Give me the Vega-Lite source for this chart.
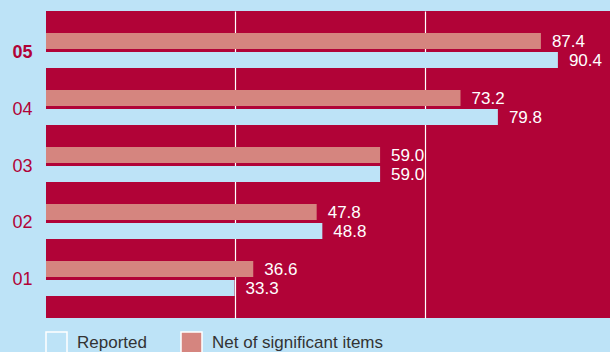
{
  "$schema": "https://vega.github.io/schema/vega-lite/v6.json",
  "autosize": {"type": "none"},
  "width": 564,
  "height": 307,
  "padding": {"left": 46, "top": 11, "right": 0, "bottom": 34},
  "background": "#bde3f7",
  "config": {
    "view": {"fill": "#b10337", "stroke": null},
    "font": "Liberation Sans"
  },
  "data": {
    "values": [
      {"year": "05", "series": "Net of significant items", "value": 87.4},
      {"year": "05", "series": "Reported", "value": 90.4},
      {"year": "04", "series": "Net of significant items", "value": 73.2},
      {"year": "04", "series": "Reported", "value": 79.8},
      {"year": "03", "series": "Net of significant items", "value": 59.0},
      {"year": "03", "series": "Reported", "value": 59.0},
      {"year": "02", "series": "Net of significant items", "value": 47.8},
      {"year": "02", "series": "Reported", "value": 48.8},
      {"year": "01", "series": "Net of significant items", "value": 36.6},
      {"year": "01", "series": "Reported", "value": 33.3}
    ]
  },
  "encoding": {
    "y": {
      "field": "year",
      "type": "nominal",
      "sort": "descending",
      "scale": {"paddingInner": 0.386, "paddingOuter": 0.386},
      "axis": {
        "title": null,
        "domain": false,
        "ticks": false,
        "labelFontSize": 18,
        "labelColor": "#b10337",
        "labelPadding": 14,
        "labelOffset": 2,
        "labelFontWeight": {"expr": "datum.value == '05' ? 'bold' : 'normal'"}
      }
    },
    "yOffset": {
      "field": "series",
      "type": "nominal",
      "sort": ["Net of significant items", "Reported"],
      "scale": {"paddingInner": 0.158}
    },
    "x": {
      "field": "value",
      "type": "quantitative",
      "scale": {"domain": [0, 99.6], "nice": false, "zero": true},
      "axis": {
        "title": null,
        "labels": false,
        "ticks": false,
        "domain": false,
        "values": [33.4, 66.9],
        "grid": true,
        "gridColor": "#ffffff",
        "gridWidth": 1.2,
        "gridOpacity": 1
      }
    }
  },
  "layer": [
    {
      "mark": {"type": "bar", "cornerRadius": 0},
      "encoding": {
        "color": {
          "field": "series",
          "type": "nominal",
          "scale": {
            "domain": ["Reported", "Net of significant items"],
            "range": ["#bde3f7", "#d5857f"]
          },
          "legend": {
            "title": null,
            "orient": "none",
            "legendX": -1,
            "legendY": 320,
            "direction": "horizontal",
            "symbolType": "square",
            "symbolSize": 441,
            "symbolStrokeColor": "#ffffff",
            "symbolStrokeWidth": 1.5,
            "symbolOpacity": 1,
            "symbolOffset": 0,
            "labelFontSize": 17,
            "labelColor": "#333333",
            "labelOffset": 9,
            "labelLimit": 400,
            "columnPadding": 31,
            "padding": 0
          }
        }
      }
    },
    {
      "mark": {"type": "text", "align": "left", "baseline": "middle", "dx": 11, "dy": 1, "fontSize": 17, "color": "#ffffff"},
      "encoding": {
        "text": {"field": "value", "type": "quantitative", "format": ".1f"}
      }
    }
  ]
}
